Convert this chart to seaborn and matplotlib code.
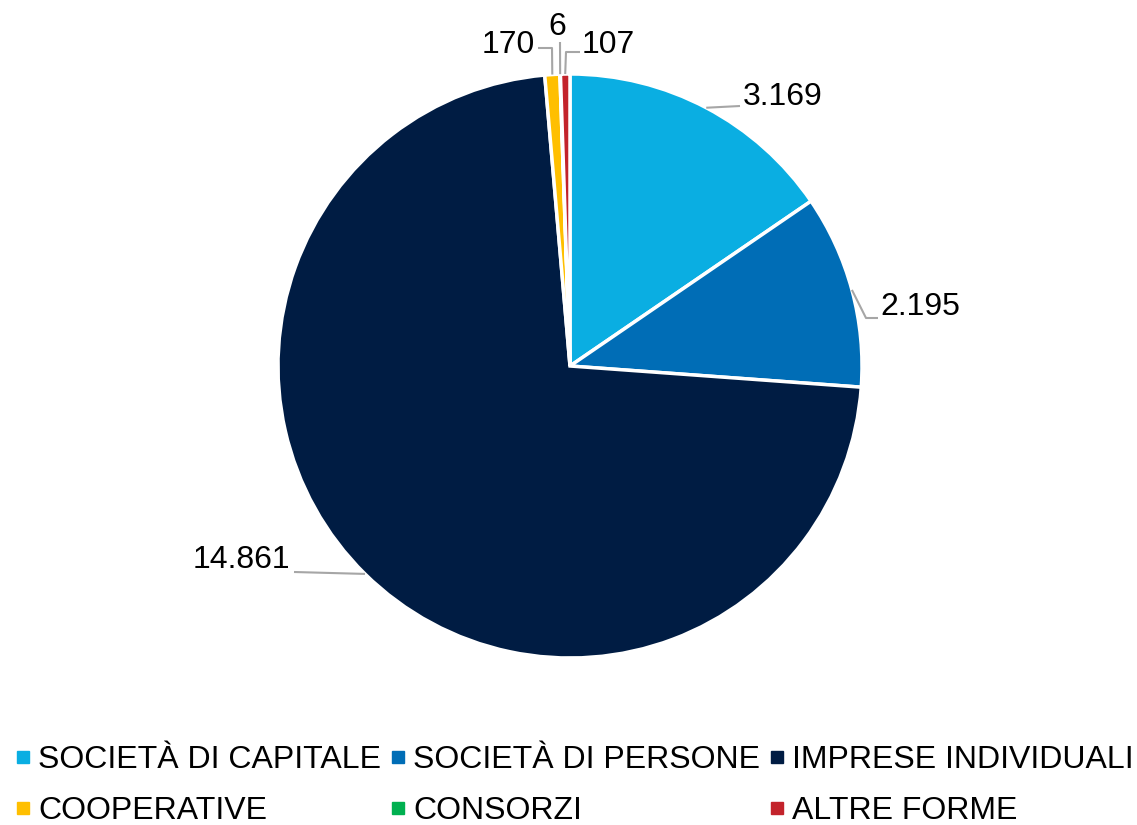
import numpy as np
import seaborn as sns
import matplotlib.pyplot as plt
from matplotlib.lines import Line2D

# data
categories = ['SOCIETÀ DI CAPITALE', 'SOCIETÀ DI PERSONE', 'IMPRESE INDIVIDUALI',
              'COOPERATIVE', 'CONSORZI', 'ALTRE FORME']
values = [3169, 2195, 14861, 170, 6, 107]
labels = ['3.169', '2.195', '14.861', '170', '6', '107']
colors = ['#0AAEE2', '#006DB6', '#001C43', '#FFBF00', '#00B050', '#C3232B']

sns.set_theme(style='white')
plt.rcParams['font.family'] = ['Liberation Sans', 'DejaVu Sans']

W, H = 1137, 825
fig = plt.figure(figsize=(W / 100, H / 100), dpi=100)
ax = fig.add_axes([0, 0, 1, 1])

cx, cy, r = 570, H - 366, 292
wedges, _ = ax.pie(values, colors=colors, startangle=90, counterclock=False,
                   center=(cx, cy), radius=r,
                   wedgeprops=dict(edgecolor='white', linewidth=2.5))
ax.set_xlim(0, W)
ax.set_ylim(0, H)
ax.axis('off')

# leader lines + labels (text position, elbow points) in pixel coords
label_pos = [(743, 97, 'left'), (880, 307, 'left'), (290, 560, 'right'),
             (535, 45, 'right'), (557, 27, 'center'), (582, 45, 'left')]
elbows = [[(740, 106)], [(866, 318), (878, 318)], [(294, 572)],
          [(552, 48), (538, 48)], [(560, 42)], [(566, 52), (580, 52)]]

for w, el in zip(wedges, elbows):
    ang = np.deg2rad((w.theta1 + w.theta2) / 2)
    xs = [cx + r * np.cos(ang)] + [p[0] for p in el]
    ys = [cy + r * np.sin(ang)] + [H - p[1] for p in el]
    ax.plot(xs, ys, color='#A6A6A6', lw=1.5, solid_capstyle='butt')
for (tx, ty, ha), lab in zip(label_pos, labels):
    ax.text(tx, H - ty, lab, ha=ha, va='center', fontsize=23, color='black')

# legend filled row by row (3 columns)
order = [0, 3, 1, 4, 2, 5]
handles = [Line2D([0], [0], marker='s', linestyle='', markersize=8,
                  markerfacecolor=colors[i], markeredgecolor=colors[i]) for i in order]
leg = fig.legend(handles, [categories[i] for i in order], ncol=3, loc='lower left',
                 bbox_to_anchor=(0.0035, -0.017), frameon=False, fontsize=23,
                 handletextpad=0.28, columnspacing=0.32, labelspacing=0.65,
                 handlelength=0.4, borderpad=0.4, borderaxespad=0.0)
for t in leg.get_texts():
    t.set_color('black')

fig.savefig('out.png', dpi=100)
